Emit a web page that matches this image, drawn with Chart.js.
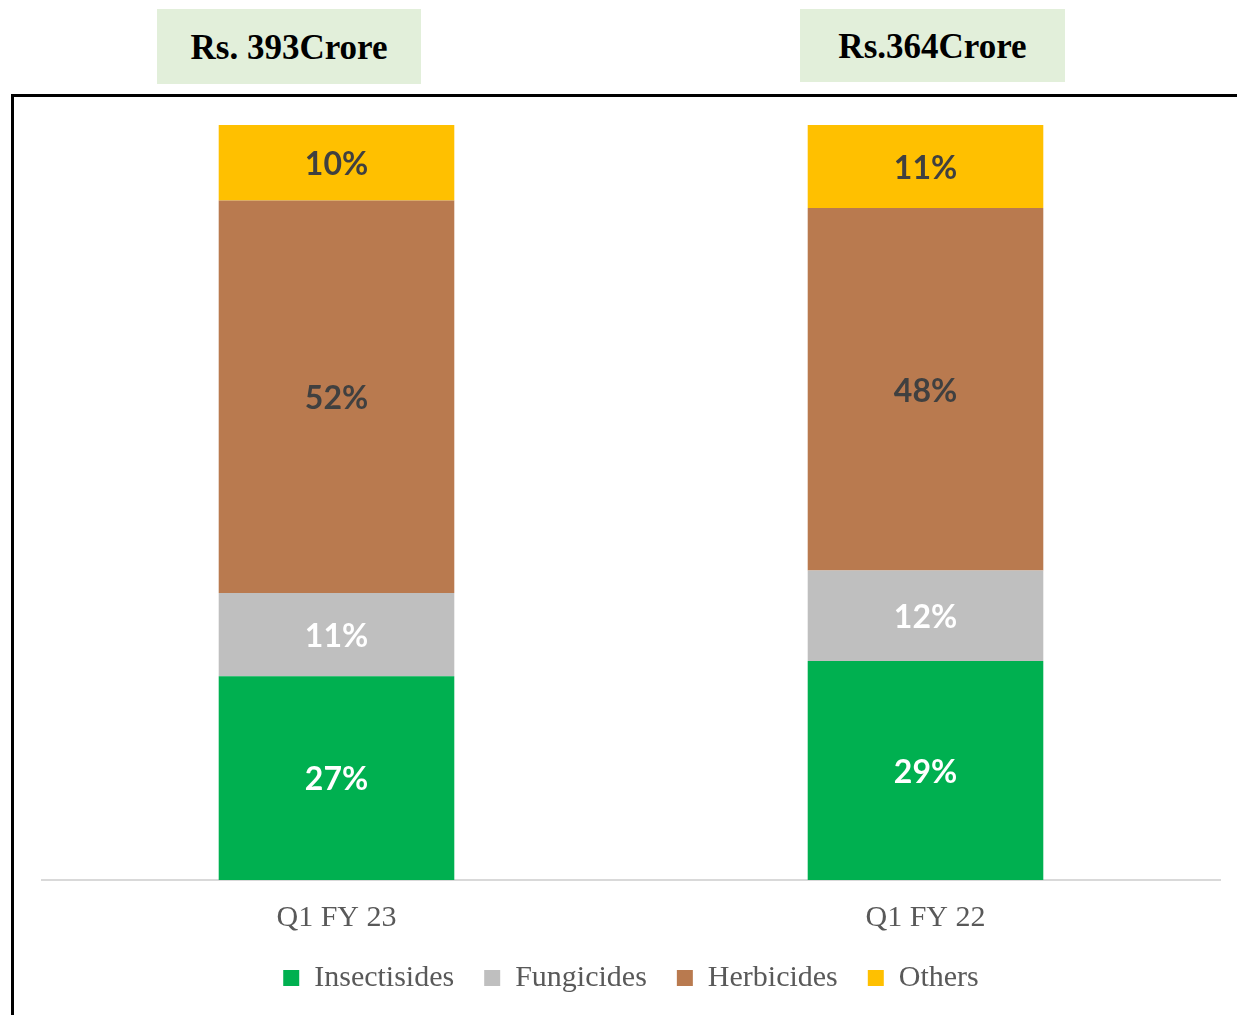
<!DOCTYPE html>
<html>
<head>
<meta charset="utf-8">
<script src="https://cdn.jsdelivr.net/npm/chart.js@4"></script>
<style>
  html, body { margin: 0; padding: 0; background: #fff; }
  #wrap { position: relative; width: 1237px; height: 1015px; overflow: hidden; }
  #frame { position: absolute; left: 11px; top: 94px; width: 1300px; height: 1000px;
           border-top: 3px solid #000; border-left: 3px solid #000; box-sizing: border-box; }
  .tot { position: absolute; background: #E2EFDA; font-family: "Liberation Serif", serif;
         font-weight: bold; font-size: 35px; color: #000; text-align: center; }
  #c { position: absolute; left: 0; top: 0; }
</style>
</head>
<body>
<div id="wrap">
  <div id="frame"></div>
  <div class="tot" id="t0" style="left:157px;top:9px;width:264px;height:75px;line-height:78px;"></div>
  <div class="tot" id="t1" style="left:800px;top:9px;width:265px;height:73px;line-height:76px;"></div>
  <canvas id="c" width="1237" height="1015"></canvas>
</div>
<script>
const CATEGORIES = ['Q1 FY 23', 'Q1 FY 22'];
const TOTALS = ['Rs. 393Crore', 'Rs.364Crore'];
const INSECTISIDES = [27, 29];
const FUNGICIDES = [11, 12];
const HERBICIDES = [52, 48];
const OTHERS = [10, 11];

document.getElementById('t0').textContent = TOTALS[0];
document.getElementById('t1').textContent = TOTALS[1];

// draw the % text in the middle of every segment
const segLabels = {
    id: 'segLabels',
    afterDatasetsDraw(chart) {
        const ctx = chart.ctx;
        ctx.save();
        ctx.font = 'bold 32px Lato, "Open Sans", sans-serif';
        ctx.textAlign = 'center';
        ctx.textBaseline = 'middle';
        chart.data.datasets.forEach((ds, i) => {
            chart.getDatasetMeta(i).data.forEach((bar, j) => {
                const mid = (bar.y + bar.base) / 2;
                ctx.fillStyle = ds.labelColor;
                ctx.fillText(ds.data[j] + '%', bar.x, mid + 2);
            });
        });
        ctx.restore();
    }
};

new Chart(document.getElementById('c'), {
    type: 'bar',
    data: {
        labels: CATEGORIES,
        datasets: [
            { label: 'Insectisides', data: INSECTISIDES, backgroundColor: '#00B050', labelColor: '#ffffff' },
            { label: 'Fungicides', data: FUNGICIDES, backgroundColor: '#BFBFBF', labelColor: '#ffffff' },
            { label: 'Herbicides', data: HERBICIDES, backgroundColor: '#B97A4F', labelColor: '#404040' },
            { label: 'Others', data: OTHERS, backgroundColor: '#FFC000', labelColor: '#404040' }
        ]
    },
    options: {
        responsive: false,
        animation: false,
        datasets: {
            bar: { barPercentage: 0.4, categoryPercentage: 1.0 }
        },
        layout: {
            padding: { left: 42, right: 17, top: 125, bottom: 12 }
        },
        scales: {
            x: {
                stacked: true,
                grid: { display: false, drawTicks: false },
                border: { display: true, color: '#D9D9D9', width: 2 },
                ticks: {
                    padding: 29,
                    color: '#595959',
                    font: { family: '"Liberation Serif", serif', size: 30, lineHeight: 0.6 }
                },
                afterFit(scale) { scale.height = 53; }
            },
            y: {
                stacked: true,
                display: false,
                min: 0,
                max: 100
            }
        },
        plugins: {
            legend: {
                position: 'bottom',
                labels: {
                    boxWidth: 16,
                    boxHeight: 16,
                    padding: 30,
                    color: '#595959',
                    font: { family: '"Liberation Serif", serif', size: 30 }
                }
            },
            tooltip: { enabled: false }
        }
    },
    plugins: [segLabels]
});
</script>
</body>
</html>
